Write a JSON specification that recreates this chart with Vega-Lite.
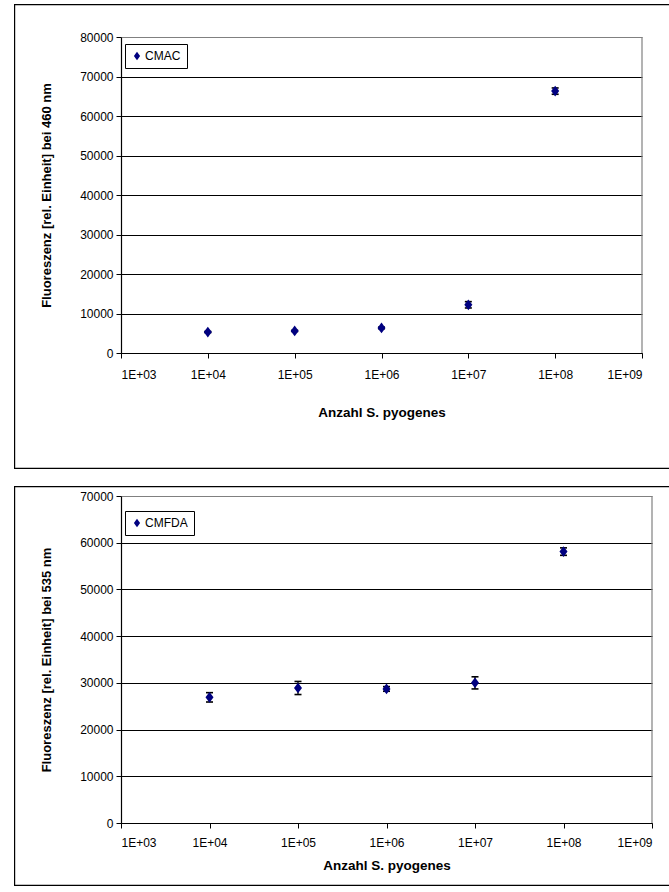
{
  "$schema": "https://vega.github.io/schema/vega-lite/v6.json",
  "padding": {"left": 14, "top": 4, "right": 0, "bottom": 2},
  "spacing": 17,
  "background": "white",
  "resolve": {"scale": {"color": "independent"}, "legend": {"color": "independent"}},
  "config": {
    "font": "Liberation Sans",
    "view": {"stroke": null},
    "axis": {
      "labelFont": "Liberation Sans",
      "labelFontSize": 12,
      "labelColor": "black",
      "titleFont": "Liberation Sans",
      "titleFontSize": 13,
      "titleFontWeight": "bold",
      "titleColor": "black",
      "domainColor": "black",
      "domainWidth": 1.2,
      "tickColor": "black",
      "tickWidth": 1,
      "tickSize": 5
    },
    "legend": {
      "labelFont": "Liberation Sans",
      "labelFontSize": 12,
      "labelColor": "black"
    }
  },
  "vconcat": [
    {
      "width": 655,
      "height": 465,
      "resolve": {"scale": {"x": "independent", "y": "independent"}, "axis": {"x": "independent", "y": "independent"}},
      "layer": [
        {
          "data": {"values": [{"a": 0, "b": 1}]},
          "mark": {"type": "rect", "filled": false, "stroke": "black", "strokeWidth": 2.4, "clip": true},
          "encoding": {
            "x": {"field": "a", "type": "quantitative", "scale": {"domain": [0, 1], "range": [0, 720]}, "axis": null},
            "x2": {"field": "b"},
            "y": {"field": "a", "type": "quantitative", "scale": {"domain": [0, 1], "range": [0, 465]}, "axis": null},
            "y2": {"field": "b"}
          }
        },
        {
          "data": {"values": [
            {"n": 10000, "f": 5300, "lo": 5150, "hi": 5450, "series": "CMAC"},
            {"n": 100000, "f": 5600, "lo": 5450, "hi": 5750, "series": "CMAC"},
            {"n": 1000000, "f": 6350, "lo": 6150, "hi": 6550, "series": "CMAC"},
            {"n": 10000000, "f": 12200, "lo": 11400, "hi": 13000, "series": "CMAC"},
            {"n": 100000000, "f": 66300, "lo": 65500, "hi": 67100, "series": "CMAC"}
          ]},
          "encoding": {
            "x": {
              "field": "n", "type": "quantitative",
              "scale": {"type": "log", "domain": [1000, 1000000000], "range": [107, 628], "nice": false},
              "axis": {
                "orient": "bottom", "offset": -116,
                "values": [1000, 10000, 100000, 1000000, 10000000, 100000000, 1000000000],
                "labelExpr": "'1E+0' + round(log(datum.value) / LN10)",
                "labelPadding": 11,
                "grid": false,
                "title": "Anzahl S. pyogenes",
                "titleFontSize": 13.5,
                "titlePadding": 25
              }
            }
          },
          "layer": [
            {
              "data": {"values": [{"xb": 1000000000, "y0": 0, "y1": 80000}]},
              "mark": {"type": "rule", "color": "#808080", "strokeWidth": 1.2},
              "encoding": {
                "x": {"field": "xb", "type": "quantitative"},
                "y": {"field": "y0", "type": "quantitative"},
                "y2": {"field": "y1"}
              }
            },
            {
              "mark": {"type": "rule", "color": "black", "strokeWidth": 1.3},
              "encoding": {
                "y": {"field": "lo", "type": "quantitative"},
                "y2": {"field": "hi"}
              }
            },
            {
              "mark": {"type": "tick", "orient": "horizontal", "color": "black", "size": 7, "thickness": 1.6, "opacity": 1},
              "encoding": {"y": {"field": "lo", "type": "quantitative"}}
            },
            {
              "mark": {"type": "tick", "orient": "horizontal", "color": "black", "size": 7, "thickness": 1.6, "opacity": 1},
              "encoding": {"y": {"field": "hi", "type": "quantitative"}}
            },
            {
              "mark": {"type": "point", "filled": true, "opacity": 1, "size": 115, "shape": "M-0.75,0L0,-1L0.75,0L0,1Z"},
              "encoding": {
                "y": {
                  "field": "f", "type": "quantitative",
                  "scale": {"domain": [0, 80000], "range": [349, 33], "nice": false, "zero": true},
                  "axis": {
                    "orient": "left", "offset": -107,
                    "values": [0, 10000, 20000, 30000, 40000, 50000, 60000, 70000, 80000],
                    "format": "d",
                    "labelPadding": 3,
                    "grid": true,
                    "gridColor": {"condition": {"test": "datum.value === 80000", "value": "#808080"}, "value": "#000000"},
                    "gridWidth": 1.1,
                    "title": "Fluoreszenz [rel. Einheit] bei 460 nm",
                    "titlePadding": 26
                  }
                },
                "color": {
                  "field": "series", "type": "nominal",
                  "scale": {"range": ["#000080"]},
                  "legend": {
                    "orient": "none", "legendX": 111, "legendY": 40,
                    "title": null,
                    "strokeColor": "black", "fillColor": "white",
                    "padding": 6,
                    "symbolType": "M-0.75,0L0,-1L0.75,0L0,1Z",
                    "symbolSize": 70,
                    "symbolOffset": 0,
                    "labelOffset": 2
                  }
                }
              }
            }
          ]
        }
      ]
    },
    {
      "width": 655,
      "height": 400,
      "resolve": {"scale": {"x": "independent", "y": "independent"}, "axis": {"x": "independent", "y": "independent"}},
      "layer": [
        {
          "data": {"values": [{"a": 0, "b": 1}]},
          "mark": {"type": "rect", "filled": false, "stroke": "black", "strokeWidth": 2.4, "clip": true},
          "encoding": {
            "x": {"field": "a", "type": "quantitative", "scale": {"domain": [0, 1], "range": [0, 720]}, "axis": null},
            "x2": {"field": "b"},
            "y": {"field": "a", "type": "quantitative", "scale": {"domain": [0, 1], "range": [0, 400]}, "axis": null},
            "y2": {"field": "b"}
          }
        },
        {
          "data": {"values": [
            {"n": 10000, "f": 26900, "lo": 25900, "hi": 27900, "series": "CMFDA"},
            {"n": 100000, "f": 28900, "lo": 27500, "hi": 30300, "series": "CMFDA"},
            {"n": 1000000, "f": 28700, "lo": 28200, "hi": 29200, "series": "CMFDA"},
            {"n": 10000000, "f": 30000, "lo": 28700, "hi": 31300, "series": "CMFDA"},
            {"n": 100000000, "f": 58100, "lo": 57300, "hi": 58900, "series": "CMFDA"}
          ]},
          "encoding": {
            "x": {
              "field": "n", "type": "quantitative",
              "scale": {"type": "log", "domain": [1000, 1000000000], "range": [107, 638], "nice": false},
              "axis": {
                "orient": "bottom", "offset": -63,
                "values": [1000, 10000, 100000, 1000000, 10000000, 100000000, 1000000000],
                "labelExpr": "'1E+0' + round(log(datum.value) / LN10)",
                "labelPadding": 9,
                "grid": false,
                "title": "Anzahl S. pyogenes",
                "titleFontSize": 13.5,
                "titlePadding": 10
              }
            }
          },
          "layer": [
            {
              "data": {"values": [{"xb": 1000000000, "y0": 0, "y1": 70000}]},
              "mark": {"type": "rule", "color": "#808080", "strokeWidth": 1.2},
              "encoding": {
                "x": {"field": "xb", "type": "quantitative"},
                "y": {"field": "y0", "type": "quantitative"},
                "y2": {"field": "y1"}
              }
            },
            {
              "mark": {"type": "rule", "color": "black", "strokeWidth": 1.3},
              "encoding": {
                "y": {"field": "lo", "type": "quantitative"},
                "y2": {"field": "hi"}
              }
            },
            {
              "mark": {"type": "tick", "orient": "horizontal", "color": "black", "size": 7, "thickness": 1.6, "opacity": 1},
              "encoding": {"y": {"field": "lo", "type": "quantitative"}}
            },
            {
              "mark": {"type": "tick", "orient": "horizontal", "color": "black", "size": 7, "thickness": 1.6, "opacity": 1},
              "encoding": {"y": {"field": "hi", "type": "quantitative"}}
            },
            {
              "mark": {"type": "point", "filled": true, "opacity": 1, "size": 115, "shape": "M-0.75,0L0,-1L0.75,0L0,1Z"},
              "encoding": {
                "y": {
                  "field": "f", "type": "quantitative",
                  "scale": {"domain": [0, 70000], "range": [337, 10], "nice": false, "zero": true},
                  "axis": {
                    "orient": "left", "offset": -107,
                    "values": [0, 10000, 20000, 30000, 40000, 50000, 60000, 70000],
                    "format": "d",
                    "labelPadding": 3,
                    "grid": true,
                    "gridColor": {"condition": {"test": "datum.value === 70000", "value": "#808080"}, "value": "#000000"},
                    "gridWidth": 1.1,
                    "title": "Fluoreszenz [rel. Einheit] bei 535 nm",
                    "titlePadding": 26
                  }
                },
                "color": {
                  "field": "series", "type": "nominal",
                  "scale": {"range": ["#000080"]},
                  "legend": {
                    "orient": "none", "legendX": 111, "legendY": 25,
                    "title": null,
                    "strokeColor": "black", "fillColor": "white",
                    "padding": 6,
                    "symbolType": "M-0.75,0L0,-1L0.75,0L0,1Z",
                    "symbolSize": 70,
                    "symbolOffset": 0,
                    "labelOffset": 2
                  }
                }
              }
            }
          ]
        }
      ]
    }
  ]
}
